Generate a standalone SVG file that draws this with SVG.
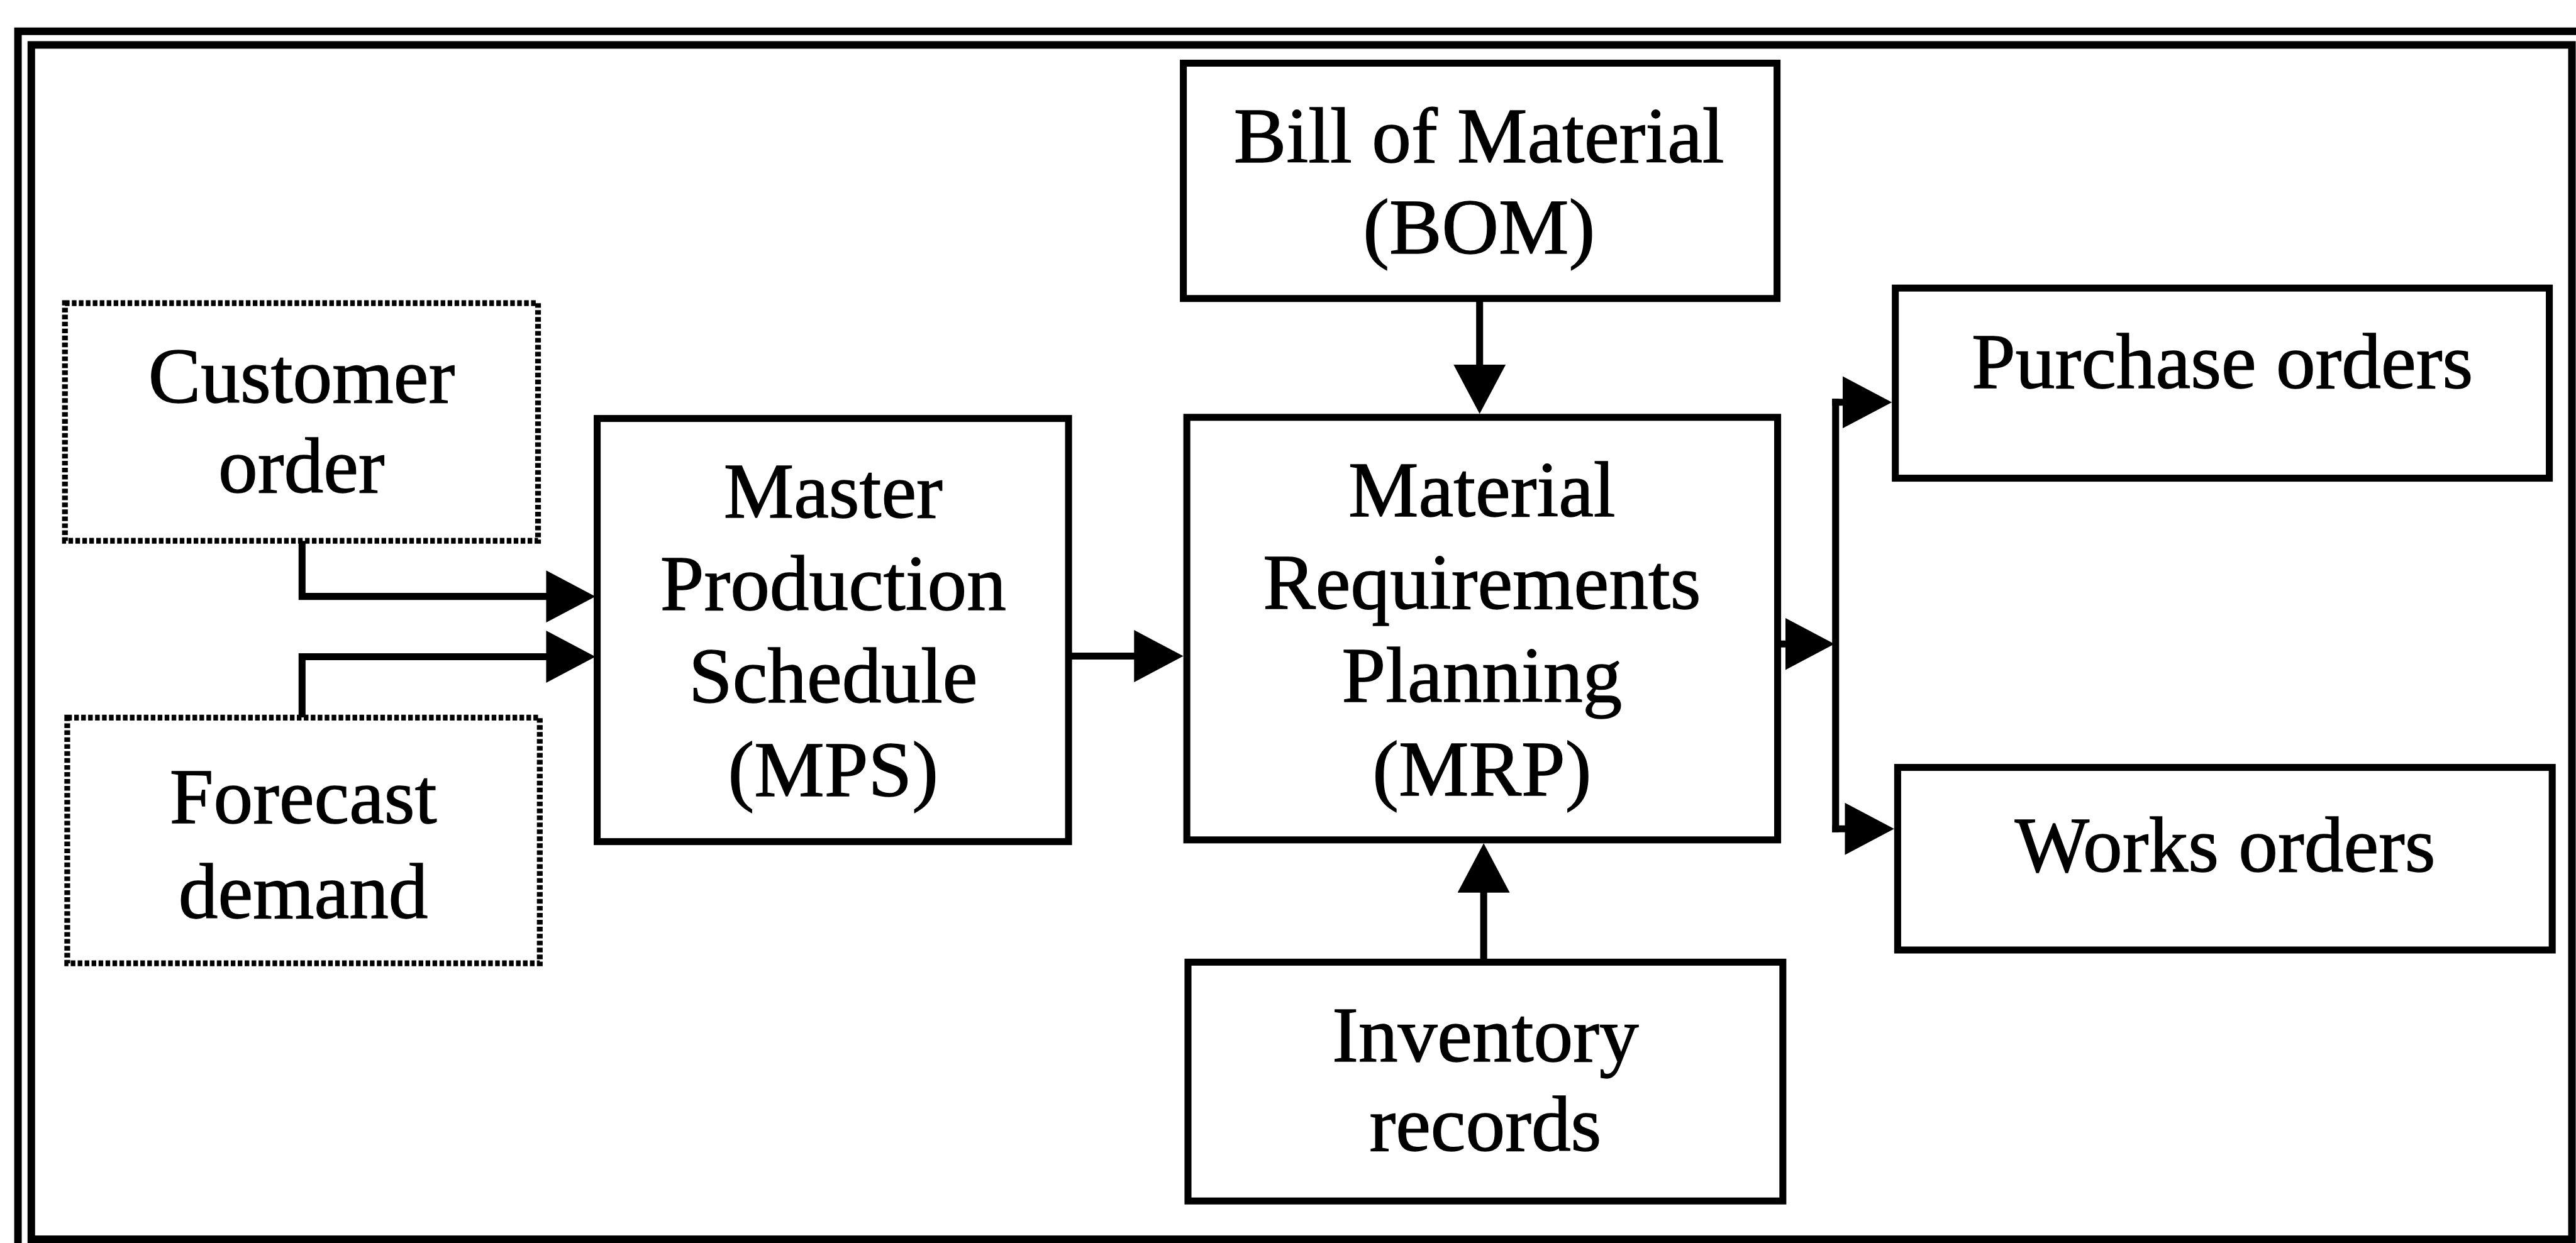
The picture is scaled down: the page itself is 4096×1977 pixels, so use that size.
<svg xmlns="http://www.w3.org/2000/svg" width="4096" height="1977" viewBox="0 0 4096 1977">
  <style>
    .box { fill: #ffffff; stroke: #000000; stroke-width: 12; }
    .dotted { fill: #ffffff; stroke: #000000; stroke-width: 10; stroke-dasharray: 8 4; }
    .frame { fill: none; stroke: #000000; stroke-width: 13; }
    .conn { fill: none; stroke: #000000; stroke-width: 12; marker-end: url(#arrow); }
    .plain { fill: none; stroke: #000000; stroke-width: 12; }
    .lbl { font-family: "Liberation Serif", "Times New Roman", serif; font-size: 136px; fill: #000000; stroke: #000000; stroke-width: 1.5; text-anchor: middle; }
  </style>
  <defs>
    <marker id="arrow" markerUnits="userSpaceOnUse" markerWidth="85" markerHeight="90" viewBox="0 0 85 90" refX="69" refY="45" orient="auto">
      <path d="M0,0 L85,45 L0,90 Z" fill="#000000"/>
    </marker>
  </defs>
  <rect width="4096" height="1977" fill="#ffffff"/>
  <g transform="scale(0.9219)">
    <g id="frame">
      <path class="frame" d="M 31 2160 V 54 H 4460"/>
      <rect class="frame" x="54" y="77.5" width="4382" height="2060.5"/>
    </g>

    <g id="connectors">
      <path class="conn" d="M 521 933 V 1029 H 1011"/>
      <path class="conn" d="M 521 1238 V 1133 H 1011"/>
      <path class="conn" d="M 1843 1132 H 2025"/>
      <path class="conn" d="M 2552 515 V 698"/>
      <path class="conn" d="M 2559 1660 V 1471"/>
      <path class="conn" d="M 3066 1111 H 3148"/>
      <path class="plain" d="M 3166 688 V 1436"/>
      <path class="conn" d="M 3160 694 H 3247"/>
      <path class="conn" d="M 3160 1430 H 3251"/>
    </g>

    <g id="customer-order">
      <rect class="dotted" x="112" y="523" width="816" height="410"/>
      <text class="lbl" x="520" y="694">Customer</text>
      <text class="lbl" x="520" y="849">order</text>
    </g>

    <g id="forecast-demand">
      <rect class="dotted" x="116" y="1238" width="815" height="424"/>
      <text class="lbl" x="523" y="1420">Forecast</text>
      <text class="lbl" x="523" y="1584">demand</text>
    </g>

    <g id="mps">
      <rect class="box" x="1030" y="722" width="813" height="730"/>
      <text class="lbl" x="1437" y="893">Master</text>
      <text class="lbl" x="1437" y="1052">Production</text>
      <text class="lbl" x="1437" y="1212">Schedule</text>
      <text class="lbl" x="1437" y="1373">(MPS)</text>
    </g>

    <g id="bom">
      <rect class="box" x="2041" y="109" width="1024" height="406"/>
      <text class="lbl" x="2551" y="280">Bill of Material</text>
      <text class="lbl" x="2551" y="437">(BOM)</text>
    </g>

    <g id="mrp">
      <rect class="box" x="2047" y="720" width="1019" height="729"/>
      <text class="lbl" x="2556" y="891">Material</text>
      <text class="lbl" x="2556" y="1050">Requirements</text>
      <text class="lbl" x="2556" y="1211">Planning</text>
      <text class="lbl" x="2556" y="1372">(MRP)</text>
    </g>

    <g id="inventory">
      <rect class="box" x="2049" y="1660" width="1026" height="412"/>
      <text class="lbl" x="2562" y="1831">Inventory</text>
      <text class="lbl" x="2562" y="1985">records</text>
    </g>

    <g id="purchase-orders">
      <rect class="box" x="3269" y="497" width="1128" height="328"/>
      <text class="lbl" x="3833" y="669">Purchase orders</text>
    </g>

    <g id="works-orders">
      <rect class="box" x="3273" y="1324" width="1129" height="315"/>
      <text class="lbl" x="3838" y="1503">Works orders</text>
    </g>
  </g>
</svg>
